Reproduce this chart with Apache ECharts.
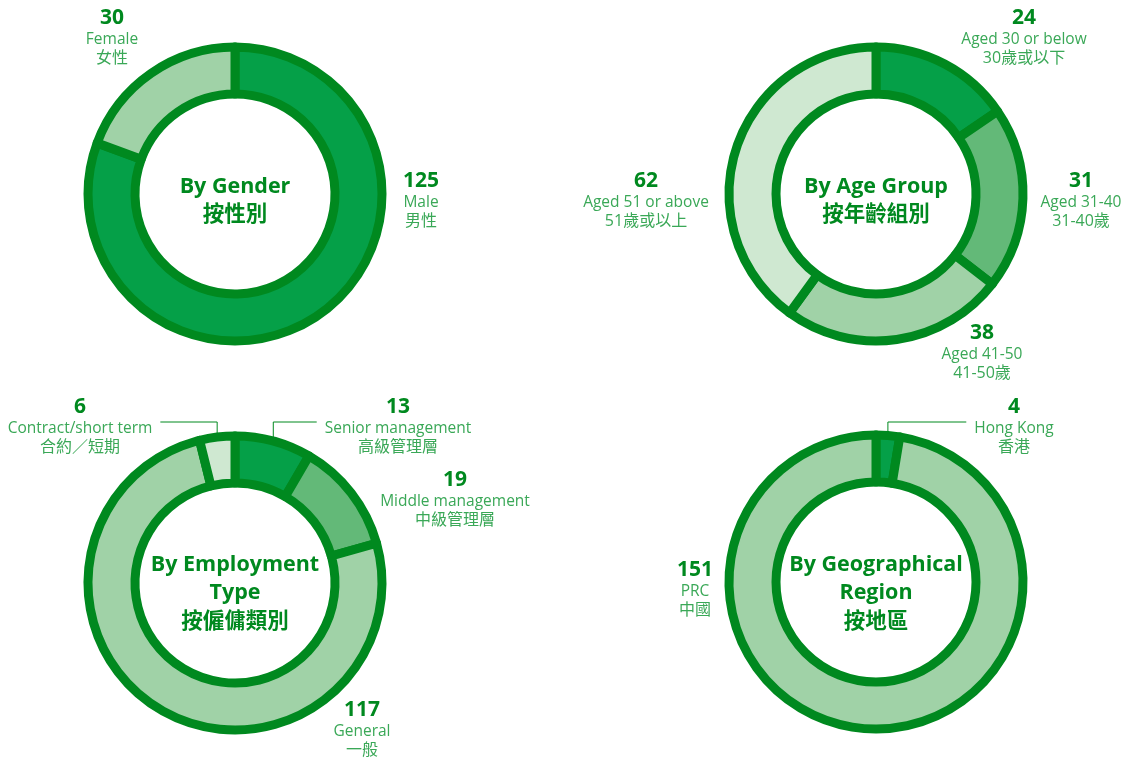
<!DOCTYPE html>
<html>
<head>
<meta charset="utf-8">
<title>Employee breakdown</title>
<script src="https://cdn.jsdelivr.net/npm/echarts@6/dist/echarts.min.js"></script>
<style>
  html, body { margin: 0; padding: 0; background: #fff; }
  #chart { width: 1128px; height: 760px; }
</style>
</head>
<body>
<div id="chart"></div>
<script>
// data
const genderNames = ['Male', 'Female'];
const genderNamesZh = ['男性', '女性'];
const genderValues = [125, 30];

const ageNames = ['Aged 30 or below', 'Aged 31-40', 'Aged 41-50', 'Aged 51 or above'];
const ageNamesZh = ['30歲或以下', '31-40歲', '41-50歲', '51歲或以上'];
const ageValues = [24, 31, 38, 62];

const employNames = ['Senior management', 'Middle management', 'General', 'Contract/short term'];
const employNamesZh = ['高級管理層', '中級管理層', '一般', '合約／短期'];
const employValues = [13, 19, 117, 6];

const regionNames = ['Hong Kong', 'PRC'];
const regionNamesZh = ['香港', '中國'];
const regionValues = [4, 151];

const titles = [
    'By Gender\n按性別',
    'By Age Group\n按年齡組別',
    'By Employment\nType\n按僱傭類別',
    'By Geographical\nRegion\n按地區'
];

// colours
const DARK = '#00891f';
const TEXT_LIGHT = '#3aa857';
const C1 = '#05a048', C2 = '#63b978', C3 = '#a0d2a7', C4 = '#cfe8d1';

const FONT = "'Open Sans', 'Noto Sans CJK TC', sans-serif";

function buildData(names, namesZh, values, colors, leaders) {
    return values.map((v, i) => ({
        value: v,
        name: names[i],
        zh: namesZh[i],
        itemStyle: { color: colors[i] },
        labelLine: { show: !!leaders[i] }
    }));
}

// places each label block; leader lines go straight up from the slice, then sideways
function makeLayout(pos, leaders) {
    return function (params) {
        const p = pos[params.dataIndex];
        const out = { x: p[0], y: p[1], align: 'center', verticalAlign: 'middle' };
        const side = leaders[params.dataIndex];
        if (side && params.labelLinePoints) {
            const a = params.labelLinePoints[0];
            const lineY = p[1] - 4;
            const half = params.labelRect.width / 2;
            const endX = side > 0 ? p[0] - half - 8 : p[0] + half + 8;
            out.labelLinePoints = [[a[0], a[1] + 12], [a[0], lineY], [endX, lineY]];
        }
        return out;
    };
}

function donut(center, data, pos, leaders) {
    return {
        type: 'pie',
        center: center,
        radius: [100, 147],
        startAngle: 90,
        clockwise: true,
        silent: true,
        animation: false,
        avoidLabelOverlap: false,
        itemStyle: { borderColor: DARK, borderWidth: 9, borderJoin: 'round' },
        label: {
            position: 'outside',
            formatter: p => `{n|${p.value}}\n{e|${p.name}}\n{c|${p.data.zh}}`,
            rich: {
                n: { fontFamily: FONT, fontWeight: 'bold', fontSize: 21, color: DARK, lineHeight: 24, align: 'center' },
                e: { fontFamily: FONT, fontSize: 15.5, color: TEXT_LIGHT, lineHeight: 19, align: 'center' },
                c: { fontFamily: FONT, fontSize: 16, color: TEXT_LIGHT, lineHeight: 19, align: 'center' }
            }
        },
        labelLine: { show: false, lineStyle: { color: DARK, width: 1 } },
        labelLayout: makeLayout(pos, leaders),
        data: data
    };
}

const centers = [[235, 194], [876, 194], [235, 583], [876, 582]];

const genderLeaders = [0, 0];
const ageLeaders = [0, 0, 0, 0];
const employLeaders = [1, 0, 0, -1];
const regionLeaders = [1, 0];

const series = [
    donut(centers[0], buildData(genderNames, genderNamesZh, genderValues, [C1, C3], genderLeaders),
        [[421, 200], [112, 37]], genderLeaders),
    donut(centers[1], buildData(ageNames, ageNamesZh, ageValues, [C1, C2, C3, C4], ageLeaders),
        [[1024, 37], [1081, 200], [982, 352], [646, 200]], ageLeaders),
    donut(centers[2], buildData(employNames, employNamesZh, employValues, [C1, C2, C3, C4], employLeaders),
        [[398, 426], [455, 499], [362, 729], [80, 426]], employLeaders),
    donut(centers[3], buildData(regionNames, regionNamesZh, regionValues, [C1, C3], regionLeaders),
        [[1014, 426], [695, 589]], regionLeaders)
];

const titleY = [201, 201, 593, 593];
const graphic = titles.map((t, i) => ({
    type: 'text',
    x: centers[i][0],
    y: titleY[i],
    silent: true,
    style: {
        text: t,
        fill: DARK,
        font: 'bold 21.5px ' + FONT,
        lineHeight: 28.5,
        align: 'center',
        verticalAlign: 'middle'
    }
}));

const chart = echarts.init(document.getElementById('chart'), null, { renderer: 'canvas' });
chart.setOption({
    backgroundColor: '#fff',
    animation: false,
    graphic: graphic,
    series: series
});
</script>
</body>
</html>
